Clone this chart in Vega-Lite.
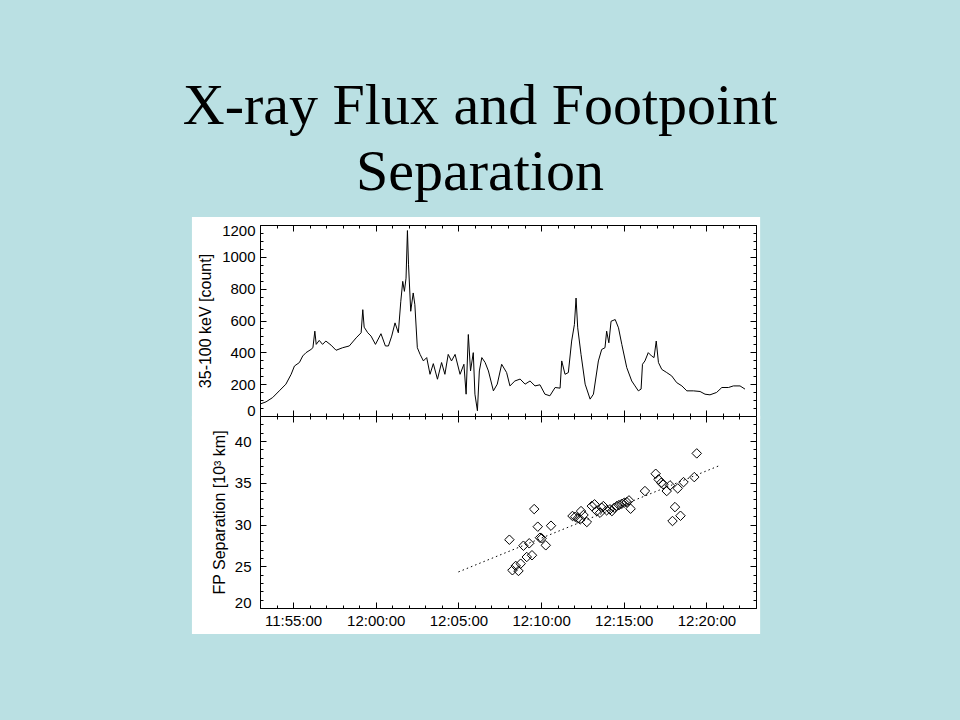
{
  "$schema": "https://vega.github.io/schema/vega-lite/v6.json",
  "background": "#BAE0E3",
  "padding": {"left": 182, "top": 78, "right": 200, "bottom": 100},
  "title": {
    "text": ["X-ray Flux and Footpoint", "Separation"],
    "font": "Liberation Serif",
    "fontSize": 58,
    "fontWeight": "normal",
    "color": "black",
    "lineHeight": 66,
    "anchor": "middle",
    "baseline": "bottom",
    "offset": -43,
    "dx": 4
  },
  "datasets": {
    "one": [{"k": 1}],
    "flux": [
      {"time": "2002-07-23T11:53:00", "count": 75}, {"time": "2002-07-23T11:53:22", "count": 89}, {"time": "2002-07-23T11:53:46", "count": 116}, {"time": "2002-07-23T11:54:10", "count": 158}, {"time": "2002-07-23T11:54:34", "count": 200}, {"time": "2002-07-23T11:54:53", "count": 262}, {"time": "2002-07-23T11:55:05", "count": 314}, {"time": "2002-07-23T11:55:23", "count": 336}, {"time": "2002-07-23T11:55:35", "count": 377}, {"time": "2002-07-23T11:55:47", "count": 398},
      {"time": "2002-07-23T11:56:05", "count": 418}, {"time": "2002-07-23T11:56:12", "count": 429}, {"time": "2002-07-23T11:56:19", "count": 533}, {"time": "2002-07-23T11:56:24", "count": 450}, {"time": "2002-07-23T11:56:35", "count": 475}, {"time": "2002-07-23T11:56:47", "count": 450}, {"time": "2002-07-23T11:56:59", "count": 471}, {"time": "2002-07-23T11:57:18", "count": 445}, {"time": "2002-07-23T11:57:36", "count": 413}, {"time": "2002-07-23T11:58:00", "count": 429},
      {"time": "2002-07-23T11:58:24", "count": 440}, {"time": "2002-07-23T11:58:49", "count": 491}, {"time": "2002-07-23T11:59:07", "count": 523}, {"time": "2002-07-23T11:59:13", "count": 668}, {"time": "2002-07-23T11:59:18", "count": 558}, {"time": "2002-07-23T11:59:31", "count": 523}, {"time": "2002-07-23T11:59:43", "count": 502}, {"time": "2002-07-23T11:59:59", "count": 450}, {"time": "2002-07-23T12:00:19", "count": 517}, {"time": "2002-07-23T12:00:35", "count": 440},
      {"time": "2002-07-23T12:00:46", "count": 440}, {"time": "2002-07-23T12:00:58", "count": 502}, {"time": "2002-07-23T12:01:10", "count": 585}, {"time": "2002-07-23T12:01:22", "count": 523}, {"time": "2002-07-23T12:01:31", "count": 721}, {"time": "2002-07-23T12:01:38", "count": 846}, {"time": "2002-07-23T12:01:44", "count": 783}, {"time": "2002-07-23T12:01:50", "count": 866}, {"time": "2002-07-23T12:01:55", "count": 1165}, {"time": "2002-07-23T12:01:59", "count": 950},
      {"time": "2002-07-23T12:02:07", "count": 658}, {"time": "2002-07-23T12:02:16", "count": 773}, {"time": "2002-07-23T12:02:22", "count": 699}, {"time": "2002-07-23T12:02:31", "count": 429}, {"time": "2002-07-23T12:02:41", "count": 387}, {"time": "2002-07-23T12:02:53", "count": 346}, {"time": "2002-07-23T12:03:05", "count": 367}, {"time": "2002-07-23T12:03:17", "count": 262}, {"time": "2002-07-23T12:03:29", "count": 329}, {"time": "2002-07-23T12:03:44", "count": 231},
      {"time": "2002-07-23T12:03:59", "count": 336}, {"time": "2002-07-23T12:04:11", "count": 262}, {"time": "2002-07-23T12:04:23", "count": 387}, {"time": "2002-07-23T12:04:35", "count": 346}, {"time": "2002-07-23T12:04:48", "count": 387}, {"time": "2002-07-23T12:05:06", "count": 262}, {"time": "2002-07-23T12:05:20", "count": 325}, {"time": "2002-07-23T12:05:28", "count": 137}, {"time": "2002-07-23T12:05:36", "count": 512}, {"time": "2002-07-23T12:05:44", "count": 283},
      {"time": "2002-07-23T12:05:54", "count": 398}, {"time": "2002-07-23T12:06:00", "count": 137}, {"time": "2002-07-23T12:06:09", "count": 33}, {"time": "2002-07-23T12:06:16", "count": 283}, {"time": "2002-07-23T12:06:25", "count": 367}, {"time": "2002-07-23T12:06:37", "count": 336}, {"time": "2002-07-23T12:06:49", "count": 283}, {"time": "2002-07-23T12:07:07", "count": 158}, {"time": "2002-07-23T12:07:21", "count": 200}, {"time": "2002-07-23T12:07:37", "count": 325},
      {"time": "2002-07-23T12:07:55", "count": 273}, {"time": "2002-07-23T12:08:07", "count": 189}, {"time": "2002-07-23T12:08:25", "count": 220}, {"time": "2002-07-23T12:08:44", "count": 232}, {"time": "2002-07-23T12:09:02", "count": 200}, {"time": "2002-07-23T12:09:20", "count": 220}, {"time": "2002-07-23T12:09:38", "count": 189}, {"time": "2002-07-23T12:09:56", "count": 196}, {"time": "2002-07-23T12:10:14", "count": 137}, {"time": "2002-07-23T12:10:32", "count": 127},
      {"time": "2002-07-23T12:10:51", "count": 179}, {"time": "2002-07-23T12:11:09", "count": 175}, {"time": "2002-07-23T12:11:15", "count": 346}, {"time": "2002-07-23T12:11:27", "count": 262}, {"time": "2002-07-23T12:11:39", "count": 273}, {"time": "2002-07-23T12:11:51", "count": 471}, {"time": "2002-07-23T12:12:01", "count": 575}, {"time": "2002-07-23T12:12:07", "count": 741}, {"time": "2002-07-23T12:12:13", "count": 554}, {"time": "2002-07-23T12:12:25", "count": 387},
      {"time": "2002-07-23T12:12:40", "count": 200}, {"time": "2002-07-23T12:12:58", "count": 106}, {"time": "2002-07-23T12:13:10", "count": 137}, {"time": "2002-07-23T12:13:28", "count": 346}, {"time": "2002-07-23T12:13:40", "count": 418}, {"time": "2002-07-23T12:13:52", "count": 429}, {"time": "2002-07-23T12:13:58", "count": 533}, {"time": "2002-07-23T12:14:06", "count": 460}, {"time": "2002-07-23T12:14:14", "count": 595}, {"time": "2002-07-23T12:14:29", "count": 606},
      {"time": "2002-07-23T12:14:41", "count": 554}, {"time": "2002-07-23T12:14:53", "count": 450}, {"time": "2002-07-23T12:15:11", "count": 304}, {"time": "2002-07-23T12:15:29", "count": 220}, {"time": "2002-07-23T12:15:41", "count": 189}, {"time": "2002-07-23T12:15:53", "count": 158}, {"time": "2002-07-23T12:16:03", "count": 169}, {"time": "2002-07-23T12:16:08", "count": 325}, {"time": "2002-07-23T12:16:17", "count": 346}, {"time": "2002-07-23T12:16:29", "count": 398},
      {"time": "2002-07-23T12:16:41", "count": 377}, {"time": "2002-07-23T12:16:50", "count": 367}, {"time": "2002-07-23T12:16:58", "count": 471}, {"time": "2002-07-23T12:17:06", "count": 336}, {"time": "2002-07-23T12:17:18", "count": 293}, {"time": "2002-07-23T12:17:36", "count": 273}, {"time": "2002-07-23T12:17:54", "count": 252}, {"time": "2002-07-23T12:18:12", "count": 210}, {"time": "2002-07-23T12:18:31", "count": 189}, {"time": "2002-07-23T12:18:49", "count": 158},
      {"time": "2002-07-23T12:19:13", "count": 158}, {"time": "2002-07-23T12:19:37", "count": 154}, {"time": "2002-07-23T12:19:55", "count": 137}, {"time": "2002-07-23T12:20:13", "count": 133}, {"time": "2002-07-23T12:20:37", "count": 148}, {"time": "2002-07-23T12:20:56", "count": 179}, {"time": "2002-07-23T12:21:20", "count": 179}, {"time": "2002-07-23T12:21:38", "count": 189}, {"time": "2002-07-23T12:22:02", "count": 189}, {"time": "2002-07-23T12:22:20", "count": 169}
    ],
    "sep": [
      {"time": "2002-07-23T12:08:05", "sep": 28.18}, {"time": "2002-07-23T12:08:16", "sep": 24.52}, {"time": "2002-07-23T12:08:28", "sep": 25.04}, {"time": "2002-07-23T12:08:38", "sep": 24.44}, {"time": "2002-07-23T12:08:46", "sep": 25.31}, {"time": "2002-07-23T12:08:56", "sep": 27.46}, {"time": "2002-07-23T12:09:08", "sep": 26.11}, {"time": "2002-07-23T12:09:17", "sep": 27.75}, {"time": "2002-07-23T12:09:27", "sep": 26.32}, {"time": "2002-07-23T12:09:35", "sep": 31.85},
      {"time": "2002-07-23T12:09:48", "sep": 29.74}, {"time": "2002-07-23T12:09:56", "sep": 28.42}, {"time": "2002-07-23T12:10:02", "sep": 28.35}, {"time": "2002-07-23T12:10:17", "sep": 27.51}, {"time": "2002-07-23T12:10:36", "sep": 29.86}, {"time": "2002-07-23T12:11:54", "sep": 31.02}, {"time": "2002-07-23T12:12:04", "sep": 30.93}, {"time": "2002-07-23T12:12:13", "sep": 30.74}, {"time": "2002-07-23T12:12:22", "sep": 30.62}, {"time": "2002-07-23T12:12:25", "sep": 31.61},
      {"time": "2002-07-23T12:12:34", "sep": 31.14}, {"time": "2002-07-23T12:12:46", "sep": 30.3}, {"time": "2002-07-23T12:13:04", "sep": 32.21}, {"time": "2002-07-23T12:13:14", "sep": 32.42}, {"time": "2002-07-23T12:13:22", "sep": 31.61}, {"time": "2002-07-23T12:13:34", "sep": 31.41}, {"time": "2002-07-23T12:13:40", "sep": 32.01}, {"time": "2002-07-23T12:13:46", "sep": 32.21}, {"time": "2002-07-23T12:13:58", "sep": 31.7}, {"time": "2002-07-23T12:14:10", "sep": 31.82},
      {"time": "2002-07-23T12:14:17", "sep": 31.61}, {"time": "2002-07-23T12:14:26", "sep": 32.01}, {"time": "2002-07-23T12:14:35", "sep": 32.21}, {"time": "2002-07-23T12:14:43", "sep": 32.33}, {"time": "2002-07-23T12:14:53", "sep": 32.49}, {"time": "2002-07-23T12:15:02", "sep": 32.61}, {"time": "2002-07-23T12:15:11", "sep": 32.69}, {"time": "2002-07-23T12:15:19", "sep": 32.89}, {"time": "2002-07-23T12:15:25", "sep": 31.89}, {"time": "2002-07-23T12:16:17", "sep": 34.01},
      {"time": "2002-07-23T12:16:56", "sep": 36.08}, {"time": "2002-07-23T12:17:06", "sep": 35.41}, {"time": "2002-07-23T12:17:16", "sep": 35.0}, {"time": "2002-07-23T12:17:24", "sep": 34.81}, {"time": "2002-07-23T12:17:36", "sep": 34.01}, {"time": "2002-07-23T12:17:48", "sep": 34.69}, {"time": "2002-07-23T12:17:57", "sep": 30.42}, {"time": "2002-07-23T12:18:06", "sep": 32.09}, {"time": "2002-07-23T12:18:16", "sep": 34.33}, {"time": "2002-07-23T12:18:26", "sep": 31.05},
      {"time": "2002-07-23T12:18:37", "sep": 35.08}, {"time": "2002-07-23T12:19:16", "sep": 35.68}, {"time": "2002-07-23T12:19:25", "sep": 38.52}
    ],
    "fit": [
      {"time": "2002-07-23T12:05:00", "sep": 24.32},
      {"time": "2002-07-23T12:20:52", "sep": 37.12}
    ]
  },
  "bounds": "flush",
  "spacing": 0,
  "vconcat": [
    {
      "width": 496,
      "height": 191,
      "layer": [
        {
          "data": {"name": "one"},
          "mark": {"type": "rect", "fill": "white"},
          "encoding": {
            "x": {"datum": {"year": 2002, "month": 7, "date": 23, "hours": 11, "minutes": 48, "seconds": 53}, "type": "temporal", "axis": null},
            "x2": {"datum": {"year": 2002, "month": 7, "date": 23, "hours": 12, "minutes": 23, "seconds": 15}},
            "y": {"datum": 1250, "type": "quantitative", "axis": null},
            "y2": {"datum": -18.85}
          }
        },
        {
          "data": {"name": "flux"},
          "mark": {"type": "line", "color": "black", "strokeWidth": 1},
          "encoding": {
            "x": {
              "field": "time", "type": "temporal",
              "scale": {"domain": [{"year": 2002, "month": 7, "date": 23, "hours": 11, "minutes": 53}, {"year": 2002, "month": 7, "date": 23, "hours": 12, "minutes": 23}], "nice": false},
              "axis": {"orient": "bottom", "zindex": 2, "values": [{"year": 2002, "month": 7, "date": 23, "hours": 11, "minutes": 55}, {"year": 2002, "month": 7, "date": 23, "hours": 12, "minutes": 0}, {"year": 2002, "month": 7, "date": 23, "hours": 12, "minutes": 5}, {"year": 2002, "month": 7, "date": 23, "hours": 12, "minutes": 10}, {"year": 2002, "month": 7, "date": 23, "hours": 12, "minutes": 15}, {"year": 2002, "month": 7, "date": 23, "hours": 12, "minutes": 20}], "labels": false, "tickSize": -6, "title": null}
            },
            "y": {
              "field": "count", "type": "quantitative",
              "scale": {"domain": [0, 1200], "nice": false},
              "axis": {"orient": "left", "zindex": 2, "values": [0, 200, 400, 600, 800, 1000, 1200], "format": "d", "tickSize": -6, "labelPadding": 11, "labelFlush": true, "labelFlushOffset": 2, "title": "35-100 keV [count]", "titlePadding": 8}
            }
          }
        },
        {
          "data": {"name": "one"},
          "mark": {"type": "point", "opacity": 0},
          "encoding": {
            "x": {"datum": {"year": 2002, "month": 7, "date": 23, "hours": 12, "minutes": 0}, "type": "temporal",
                  "axis": {"orient": "bottom", "zindex": 2, "tickCount": 30, "labels": false, "domain": false, "tickSize": -3, "title": null}},
            "y": {"datum": 100, "type": "quantitative",
                  "axis": {"orient": "left", "zindex": 2, "values": [50, 100, 150, 250, 300, 350, 450, 500, 550, 650, 700, 750, 850, 900, 950, 1050, 1100, 1150], "labels": false, "domain": false, "tickSize": -3, "title": null}}
          }
        },
        {
          "data": {"name": "one"},
          "mark": {"type": "point", "opacity": 0},
          "encoding": {
            "x": {"datum": {"year": 2002, "month": 7, "date": 23, "hours": 12, "minutes": 0}, "type": "temporal",
                  "axis": {"orient": "top", "zindex": 2, "values": [{"year": 2002, "month": 7, "date": 23, "hours": 11, "minutes": 55}, {"year": 2002, "month": 7, "date": 23, "hours": 12, "minutes": 0}, {"year": 2002, "month": 7, "date": 23, "hours": 12, "minutes": 5}, {"year": 2002, "month": 7, "date": 23, "hours": 12, "minutes": 10}, {"year": 2002, "month": 7, "date": 23, "hours": 12, "minutes": 15}, {"year": 2002, "month": 7, "date": 23, "hours": 12, "minutes": 20}], "labels": false, "tickSize": -6, "title": null}},
            "y": {"datum": 100, "type": "quantitative",
                  "axis": {"orient": "right", "zindex": 2, "values": [0, 200, 400, 600, 800, 1000, 1200], "labels": false, "tickSize": -6, "title": null}}
          }
        },
        {
          "data": {"name": "one"},
          "mark": {"type": "point", "opacity": 0},
          "encoding": {
            "x": {"datum": {"year": 2002, "month": 7, "date": 23, "hours": 12, "minutes": 0}, "type": "temporal",
                  "axis": {"orient": "top", "zindex": 2, "tickCount": 30, "labels": false, "domain": false, "tickSize": -3, "title": null}},
            "y": {"datum": 100, "type": "quantitative",
                  "axis": {"orient": "right", "zindex": 2, "values": [50, 100, 150, 250, 300, 350, 450, 500, 550, 650, 700, 750, 850, 900, 950, 1050, 1100, 1150], "labels": false, "domain": false, "tickSize": -3, "title": null}}
          }
        }
      ],
      "resolve": {"axis": {"x": "independent", "y": "independent"}}
    },
    {
      "width": 496,
      "height": 192,
      "layer": [
        {
          "data": {"name": "one"},
          "mark": {"type": "rect", "fill": "white"},
          "encoding": {
            "x": {"datum": {"year": 2002, "month": 7, "date": 23, "hours": 11, "minutes": 48, "seconds": 53}, "type": "temporal", "axis": null},
            "x2": {"datum": {"year": 2002, "month": 7, "date": 23, "hours": 12, "minutes": 23, "seconds": 15}},
            "y": {"datum": 43, "type": "quantitative", "axis": null},
            "y2": {"datum": 16.9}
          }
        },
        {
          "data": {"name": "fit"},
          "mark": {"type": "line", "color": "black", "strokeWidth": 1, "strokeDash": [1.5, 3]},
          "encoding": {
            "x": {"field": "time", "type": "temporal", "axis": null},
            "y": {"field": "sep", "type": "quantitative", "axis": null}
          }
        },
        {
          "data": {"name": "sep"},
          "mark": {"type": "point", "shape": "diamond", "filled": false, "stroke": "black", "strokeWidth": 1, "size": 90, "opacity": 1},
          "encoding": {
            "x": {
              "field": "time", "type": "temporal",
              "scale": {"domain": [{"year": 2002, "month": 7, "date": 23, "hours": 11, "minutes": 53}, {"year": 2002, "month": 7, "date": 23, "hours": 12, "minutes": 23}], "nice": false},
              "axis": {"orient": "bottom", "zindex": 2, "values": [{"year": 2002, "month": 7, "date": 23, "hours": 11, "minutes": 55}, {"year": 2002, "month": 7, "date": 23, "hours": 12, "minutes": 0}, {"year": 2002, "month": 7, "date": 23, "hours": 12, "minutes": 5}, {"year": 2002, "month": 7, "date": 23, "hours": 12, "minutes": 10}, {"year": 2002, "month": 7, "date": 23, "hours": 12, "minutes": 15}, {"year": 2002, "month": 7, "date": 23, "hours": 12, "minutes": 20}], "format": "%H:%M:%S", "tickSize": -6, "labelPadding": 11, "title": null}
            },
            "y": {
              "field": "sep", "type": "quantitative",
              "scale": {"domain": [20, 43], "nice": false, "zero": false},
              "axis": {"orient": "left", "zindex": 2, "values": [20, 25, 30, 35, 40], "tickSize": -6, "labelPadding": 15, "labelFlush": true, "labelFlushOffset": 2, "title": "FP Separation [10³ km]", "titlePadding": 7}
            }
          }
        },
        {
          "data": {"name": "one"},
          "mark": {"type": "point", "opacity": 0},
          "encoding": {
            "x": {"datum": {"year": 2002, "month": 7, "date": 23, "hours": 12, "minutes": 0}, "type": "temporal",
                  "axis": {"orient": "bottom", "zindex": 2, "tickCount": 30, "labels": false, "domain": false, "tickSize": -3, "title": null}},
            "y": {"datum": 30, "type": "quantitative",
                  "axis": {"orient": "left", "zindex": 2, "values": [21, 22, 23, 24, 26, 27, 28, 29, 31, 32, 33, 34, 36, 37, 38, 39, 41, 42], "labels": false, "domain": false, "tickSize": -3, "title": null}}
          }
        },
        {
          "data": {"name": "one"},
          "mark": {"type": "point", "opacity": 0},
          "encoding": {
            "x": {"datum": {"year": 2002, "month": 7, "date": 23, "hours": 12, "minutes": 0}, "type": "temporal",
                  "axis": {"orient": "top", "zindex": 2, "values": [{"year": 2002, "month": 7, "date": 23, "hours": 11, "minutes": 55}, {"year": 2002, "month": 7, "date": 23, "hours": 12, "minutes": 0}, {"year": 2002, "month": 7, "date": 23, "hours": 12, "minutes": 5}, {"year": 2002, "month": 7, "date": 23, "hours": 12, "minutes": 10}, {"year": 2002, "month": 7, "date": 23, "hours": 12, "minutes": 15}, {"year": 2002, "month": 7, "date": 23, "hours": 12, "minutes": 20}], "labels": false, "tickSize": -6, "title": null}},
            "y": {"datum": 30, "type": "quantitative",
                  "axis": {"orient": "right", "zindex": 2, "values": [20, 25, 30, 35, 40], "labels": false, "tickSize": -6, "title": null}}
          }
        },
        {
          "data": {"name": "one"},
          "mark": {"type": "point", "opacity": 0},
          "encoding": {
            "x": {"datum": {"year": 2002, "month": 7, "date": 23, "hours": 12, "minutes": 0}, "type": "temporal",
                  "axis": {"orient": "top", "zindex": 2, "tickCount": 30, "labels": false, "domain": false, "tickSize": -3, "title": null}},
            "y": {"datum": 30, "type": "quantitative",
                  "axis": {"orient": "right", "zindex": 2, "values": [21, 22, 23, 24, 26, 27, 28, 29, 31, 32, 33, 34, 36, 37, 38, 39, 41, 42], "labels": false, "domain": false, "tickSize": -3, "title": null}}
          }
        }
      ],
      "resolve": {"axis": {"x": "independent", "y": "independent"}}
    }
  ],
  "config": {
    "view": {"stroke": null},
    "axis": {
      "grid": false,
      "labelFont": "Liberation Sans",
      "labelFontSize": 15,
      "labelColor": "black",
      "titleFont": "Liberation Sans",
      "titleFontSize": 16,
      "titleFontWeight": "normal",
      "titleColor": "black",
      "tickColor": "black",
      "tickWidth": 1,
      "domainColor": "black",
      "domainWidth": 1,
      "labelOverlap": false
    }
  }
}
